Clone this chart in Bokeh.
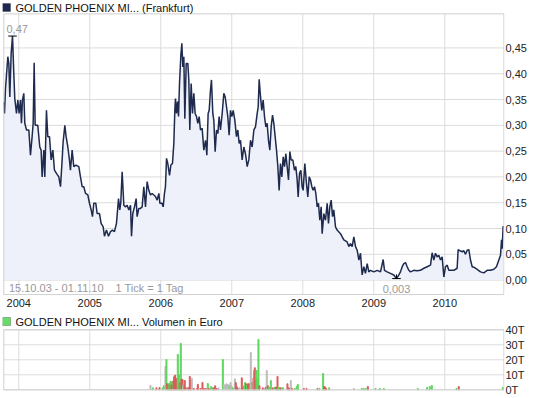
from bokeh.plotting import figure
from bokeh.models import ColumnDataSource, FixedTicker, Label, Range1d, BoxAnnotation
from bokeh.layouts import column
from bokeh.embed import file_html
from bokeh.resources import INLINE

# ---------------- data ----------------
period_start = 2003.789   # 15.10.03
period_end = 2010.833     # 01.11.10

price_years = [
    2003.789, 2003.799, 2003.813, 2003.827, 2003.846, 2003.860, 2003.874, 2003.893, 2003.912, 2003.930,
    2003.944, 2003.968, 2003.987,
    2004.005, 2004.024, 2004.038, 2004.052, 2004.071, 2004.085, 2004.109, 2004.142, 2004.165, 2004.188,
    2004.203, 2004.217, 2004.231, 2004.268, 2004.296, 2004.315, 2004.329, 2004.353, 2004.367, 2004.390,
    2004.409, 2004.433, 2004.456, 2004.480, 2004.503, 2004.531, 2004.564, 2004.588, 2004.611, 2004.625,
    2004.649, 2004.667, 2004.691, 2004.714, 2004.728, 2004.752, 2004.775, 2004.804, 2004.846, 2004.869,
    2004.893, 2004.916, 2004.940, 2004.973, 2004.996,
    2005.020, 2005.038, 2005.057, 2005.085, 2005.104, 2005.137, 2005.160, 2005.189, 2005.207, 2005.235,
    2005.264, 2005.292, 2005.320, 2005.348, 2005.376, 2005.405, 2005.423, 2005.437, 2005.456, 2005.480,
    2005.503, 2005.527, 2005.550, 2005.574, 2005.588, 2005.606, 2005.630, 2005.653, 2005.667, 2005.691,
    2005.714, 2005.738, 2005.761, 2005.785, 2005.808, 2005.832, 2005.855, 2005.879, 2005.902, 2005.926,
    2005.949, 2005.973, 2005.987,
    2006.015, 2006.034, 2006.052, 2006.066, 2006.081, 2006.099, 2006.123, 2006.142, 2006.165, 2006.184,
    2006.198, 2006.207, 2006.221, 2006.236, 2006.250, 2006.264, 2006.283, 2006.297, 2006.311, 2006.325,
    2006.339, 2006.358, 2006.381, 2006.395, 2006.409, 2006.428, 2006.447, 2006.466, 2006.484, 2006.503,
    2006.522, 2006.541, 2006.559, 2006.583, 2006.606, 2006.630, 2006.649, 2006.667, 2006.682, 2006.700,
    2006.714, 2006.733, 2006.747, 2006.766, 2006.785, 2006.804, 2006.822, 2006.841, 2006.865, 2006.888,
    2006.907, 2006.926, 2006.944, 2006.963, 2006.982,
    2007.001, 2007.020, 2007.043, 2007.066, 2007.085, 2007.104, 2007.123, 2007.146, 2007.170, 2007.193,
    2007.217, 2007.240, 2007.264, 2007.287, 2007.311, 2007.334, 2007.358, 2007.372, 2007.386, 2007.405,
    2007.423, 2007.442, 2007.461, 2007.480, 2007.498, 2007.517, 2007.536, 2007.555, 2007.574, 2007.592,
    2007.611, 2007.630, 2007.649, 2007.667, 2007.686, 2007.705, 2007.724, 2007.743, 2007.761, 2007.780,
    2007.799, 2007.818, 2007.836, 2007.860, 2007.883, 2007.902, 2007.921, 2007.935, 2007.954, 2007.973,
    2007.991,
    2008.005, 2008.029, 2008.052, 2008.071, 2008.090, 2008.109, 2008.128, 2008.146, 2008.165, 2008.184,
    2008.203, 2008.221, 2008.240, 2008.259, 2008.273, 2008.297, 2008.320, 2008.344, 2008.362, 2008.381,
    2008.400, 2008.419, 2008.437, 2008.461, 2008.484, 2008.531, 2008.578, 2008.625, 2008.649, 2008.672,
    2008.696, 2008.719, 2008.743, 2008.766, 2008.790, 2008.813, 2008.836, 2008.860, 2008.883, 2008.907,
    2008.930, 2008.954,
    2009.001, 2009.048, 2009.095, 2009.132, 2009.151, 2009.188, 2009.235, 2009.282, 2009.320, 2009.353,
    2009.376, 2009.400, 2009.423, 2009.447, 2009.470, 2009.494, 2009.517, 2009.564, 2009.611, 2009.658,
    2009.705, 2009.752, 2009.799, 2009.822, 2009.846, 2009.869, 2009.893, 2009.916, 2009.940, 2009.963,
    2009.987,
    2010.010, 2010.034, 2010.057, 2010.081, 2010.128, 2010.174, 2010.188, 2010.212, 2010.245, 2010.268,
    2010.292, 2010.315, 2010.339, 2010.362, 2010.386, 2010.409, 2010.456, 2010.503, 2010.550, 2010.597,
    2010.644, 2010.691, 2010.728, 2010.761, 2010.785, 2010.799, 2010.808, 2010.822,
]
price_values = [
    0.345, 0.323, 0.371, 0.397, 0.433, 0.420, 0.355, 0.439, 0.473, 0.401,
    0.352, 0.323, 0.349,
    0.323, 0.349, 0.304, 0.349, 0.362, 0.304, 0.291, 0.291, 0.242, 0.278,
    0.304, 0.421, 0.300, 0.300, 0.258, 0.252, 0.200, 0.252, 0.200, 0.329,
    0.278, 0.278, 0.233, 0.252, 0.213, 0.207, 0.200, 0.181, 0.233, 0.268,
    0.300, 0.278, 0.258, 0.233, 0.213, 0.252, 0.220, 0.223, 0.220, 0.200,
    0.181, 0.181, 0.168, 0.165, 0.149,
    0.136, 0.123, 0.149, 0.149, 0.129, 0.129, 0.110, 0.103, 0.085, 0.097,
    0.085, 0.094, 0.097, 0.094, 0.110, 0.158, 0.136, 0.150, 0.210, 0.145,
    0.142, 0.145, 0.136, 0.145, 0.085, 0.129, 0.142, 0.158, 0.123, 0.139,
    0.139, 0.142, 0.181, 0.142, 0.191, 0.174, 0.165, 0.168, 0.165, 0.162,
    0.155, 0.168, 0.149,
    0.149, 0.142, 0.168, 0.181, 0.236, 0.226, 0.203, 0.223, 0.226, 0.265,
    0.329, 0.352, 0.323, 0.346, 0.317, 0.381, 0.436, 0.459, 0.413, 0.433,
    0.313, 0.420, 0.420, 0.388, 0.291, 0.381, 0.323, 0.362, 0.323, 0.317,
    0.304, 0.317, 0.291, 0.294, 0.252, 0.271, 0.242, 0.323, 0.329, 0.368,
    0.388, 0.323, 0.310, 0.249, 0.291, 0.284, 0.317, 0.291, 0.323, 0.362,
    0.355, 0.336, 0.317, 0.281, 0.329,
    0.317, 0.329, 0.310, 0.278, 0.291, 0.265, 0.271, 0.233, 0.258, 0.245,
    0.220, 0.233, 0.271, 0.258, 0.291, 0.297, 0.323, 0.336, 0.389, 0.355,
    0.329, 0.349, 0.317, 0.297, 0.304, 0.271, 0.252, 0.297, 0.320, 0.304,
    0.278, 0.252, 0.220, 0.174, 0.226, 0.200, 0.239, 0.220, 0.245, 0.220,
    0.194, 0.249, 0.233, 0.233, 0.213, 0.220, 0.194, 0.161, 0.207, 0.213,
    0.181,
    0.174, 0.226, 0.187, 0.161, 0.200, 0.194, 0.181, 0.174, 0.181, 0.168,
    0.142, 0.149, 0.116, 0.142, 0.090, 0.129, 0.116, 0.149, 0.110, 0.142,
    0.155, 0.123, 0.136, 0.103, 0.097, 0.090, 0.078, 0.074, 0.065, 0.071,
    0.065, 0.084, 0.065, 0.058, 0.039, 0.052, 0.010, 0.026, 0.013, 0.032,
    0.016, 0.019,
    0.016, 0.019, 0.016, 0.040, 0.019, 0.016, 0.013, 0.010, 0.003, 0.010,
    0.016, 0.026, 0.032, 0.034, 0.026, 0.019, 0.016, 0.019, 0.018, 0.019,
    0.023, 0.026, 0.029, 0.053, 0.039, 0.052, 0.045, 0.048, 0.039, 0.045,
    0.006,
    0.026, 0.029, 0.019, 0.019, 0.019, 0.023, 0.059, 0.057, 0.055, 0.057,
    0.050, 0.058, 0.059, 0.039, 0.026, 0.025, 0.021, 0.016, 0.014, 0.019,
    0.019, 0.021, 0.026, 0.039, 0.048, 0.078, 0.061, 0.105,
]

# volume in thousands of euro; direction: g = up, r = down, n = unchanged
volume_years = [
    2005.855, 2005.888, 2005.939, 2005.982, 2006.029, 2006.043, 2006.066, 2006.080, 2006.090, 2006.104,
    2006.113, 2006.127, 2006.137, 2006.151, 2006.165, 2006.179, 2006.188, 2006.202, 2006.216, 2006.230,
    2006.240, 2006.254, 2006.268, 2006.282, 2006.291, 2006.306, 2006.315, 2006.324, 2006.338, 2006.352,
    2006.381, 2006.395, 2006.409, 2006.423, 2006.437, 2006.465, 2006.512, 2006.522, 2006.559, 2006.587,
    2006.606, 2006.634, 2006.662, 2006.676, 2006.709, 2006.723, 2006.747, 2006.766, 2006.789, 2006.813,
    2006.874, 2006.888, 2006.911, 2006.925, 2006.944, 2006.968, 2006.982, 2006.996, 2007.014, 2007.043,
    2007.057, 2007.071, 2007.085, 2007.108, 2007.141, 2007.160, 2007.174, 2007.188, 2007.202, 2007.216,
    2007.230, 2007.245, 2007.259, 2007.268, 2007.282, 2007.296, 2007.306, 2007.315, 2007.324, 2007.334,
    2007.348, 2007.362, 2007.376, 2007.390, 2007.437, 2007.465, 2007.479, 2007.493, 2007.507, 2007.521,
    2007.536, 2007.550, 2007.578, 2007.606, 2007.625, 2007.644, 2007.658, 2007.672, 2007.686, 2007.709,
    2007.723, 2007.784, 2007.803, 2007.817, 2007.831, 2007.850, 2007.888, 2007.916, 2007.930, 2008.014,
    2008.052, 2008.207, 2008.235, 2008.287, 2008.301, 2008.315, 2008.329, 2008.371, 2008.719, 2008.831,
    2008.859, 2008.888, 2008.916, 2009.024, 2009.085, 2009.141, 2009.620, 2009.751, 2009.789, 2009.817,
    2010.165, 2010.197, 2010.817,
]
volume_values = [
    2.9, 1.3, 1.3, 1.5, 1.3, 2.7, 15.6, 20.2, 4.0, 2.7,
    4.0, 4.0, 5.6, 3.1, 5.6, 5.3, 8.7, 9.8, 7.6, 1.3,
    23.6, 10.2, 4.7, 30.9, 6.9, 6.9, 3.1, 3.1, 6.2, 1.3,
    1.6, 1.3, 8.9, 6.2, 7.6, 0.9, 0.9, 3.6, 0.9, 4.9,
    0.9, 0.9, 4.2, 0.9, 2.2, 1.3, 1.3, 2.7, 0.9, 1.3,
    20.2, 3.6, 3.1, 4.0, 3.6, 2.7, 4.9, 2.7, 1.3, 7.3,
    4.9, 2.0, 0.9, 1.3, 8.0, 1.3, 2.7, 4.9, 4.0, 3.1,
    4.0, 4.0, 3.1, 24.9, 4.9, 4.9, 8.0, 12.9, 14.7, 6.4,
    12.9, 7.1, 33.6, 2.7, 1.3, 0.9, 1.8, 12.9, 2.7, 1.3,
    1.8, 6.2, 1.3, 1.8, 1.8, 8.9, 1.6, 1.3, 1.3, 1.3,
    1.3, 4.0, 1.3, 0.9, 6.2, 0.9, 0.9, 2.2, 3.6, 0.9,
    0.9, 0.9, 0.9, 10.9, 2.2, 1.8, 0.9, 1.3, 0.9, 0.9,
    0.9, 0.9, 2.2, 0.9, 0.9, 0.9, 0.9, 1.6, 2.2, 2.9,
    0.9, 2.2, 1.6,
]
volume_direction = [
    "n", "g", "r", "r", "g", "g", "n", "g", "r", "r",
    "g", "r", "g", "r", "r", "g", "r", "r", "r", "r",
    "g", "g", "r", "g", "r", "r", "n", "g", "r", "r",
    "g", "r", "r", "r", "n", "r", "r", "r", "r", "r",
    "r", "r", "g", "r", "g", "g", "r", "r", "r", "n",
    "g", "n", "n", "n", "n", "g", "n", "n", "g", "n",
    "r", "r", "r", "n", "r", "r", "g", "g", "r", "g",
    "r", "r", "g", "n", "g", "n", "r", "g", "r", "r",
    "g", "g", "g", "r", "r", "n", "r", "n", "r", "g",
    "g", "g", "r", "g", "r", "r", "g", "g", "r", "g",
    "g", "r", "r", "r", "n", "r", "g", "g", "g", "r",
    "r", "r", "g", "g", "r", "r", "r", "g", "n", "g",
    "g", "g", "r", "g", "g", "g", "g", "g", "g", "g",
    "g", "r", "g",
]

year_ticks = [2004, 2005, 2006, 2007, 2008, 2009, 2010]
year_labels = ["2004", "2005", "2006", "2007", "2008", "2009", "2010"]
price_ticks = [0.0, 0.05, 0.10, 0.15, 0.20, 0.25, 0.30, 0.35, 0.40, 0.45]
price_tick_labels = ["0,00", "0,05", "0,10", "0,15", "0,20", "0,25", "0,30", "0,35", "0,40", "0,45"]
price_box = (-0.028, 0.516)          # value extent of the price panel box
volume_ticks = [0, 10, 20, 30, 40]
volume_tick_labels = ["0T", "10T", "20T", "30T", "40T"]
volume_box = (0, 40)

price_title = "GOLDEN PHOENIX MI... (Frankfurt)"
volume_title = "GOLDEN PHOENIX MI... Volumen in Euro"
period_text = "15.10.03 - 01.11.10"
tick_text = "1 Tick = 1 Tag"

# ---------------- styling ----------------
FONT = "Liberation Sans"
GRID = "#dcdcdc"
BOX = "#cfcfcf"
LINE = "#1e2a4e"
FILL = "#eef1fa"
DIR_COLORS = {"g": "#5cd65c", "r": "#dd5a5a", "n": "#bcbcbc"}

x_range = Range1d(2003.771, 2010.841)


def style_panel(p, ticks, labels, box, standoff):
    p.xgrid.visible = False
    p.ygrid.visible = False
    p.outline_line_color = None
    p.background_fill_color = "white"
    p.border_fill_color = "white"
    p.yaxis.ticker = FixedTicker(ticks=ticks)
    p.yaxis.major_label_overrides = {t: l for t, l in zip(ticks, labels)}
    p.yaxis.axis_line_color = None
    p.yaxis.major_tick_line_color = None
    p.yaxis.minor_tick_line_color = None
    p.yaxis.major_tick_out = 0
    p.yaxis.major_tick_in = 0
    p.yaxis.minor_tick_out = 0
    p.yaxis.major_label_text_font = FONT
    p.yaxis.major_label_text_font_size = "11px"
    p.yaxis.major_label_text_color = "#222222"
    p.yaxis.major_label_standoff = standoff
    # grid lines limited to the panel box
    p.segment(x0=[period_start] * len(ticks), x1=[period_end] * len(ticks), y0=ticks, y1=ticks,
              line_color=GRID, line_width=1)
    p.segment(x0=year_ticks, x1=year_ticks, y0=[box[0]] * len(year_ticks),
              y1=[box[1]] * len(year_ticks), line_color=GRID, line_width=1)


def add_box(p, box):
    p.quad(left=[period_start], right=[period_end], bottom=[box[0]], top=[box[1]],
           fill_color=None, line_color=BOX, line_width=1)


def add_title(p, text, square_color, y_screen):
    # screen units are relative to the frame's bottom-left corner
    p.add_layout(BoxAnnotation(left=0, right=8, bottom=y_screen - 4, top=y_screen + 4,
                               left_units="screen", right_units="screen",
                               bottom_units="screen", top_units="screen",
                               fill_color=square_color, fill_alpha=1,
                               line_color="#222222", line_width=1, level="overlay"))
    p.add_layout(Label(x=13, y=y_screen, x_units="screen", y_units="screen", text=text,
                       text_font=FONT, text_font_size="11px", text_color="#111111",
                       text_baseline="middle"))


# ---------------- price panel ----------------
p = figure(width=545, height=311, x_range=x_range, y_range=Range1d(-0.0298, 0.5419),
           output_backend="svg", toolbar_location=None, y_axis_location="right",
           min_border_left=2, min_border_right=41, min_border_top=0, min_border_bottom=16)
style_panel(p, price_ticks, price_tick_labels, price_box, 1)
p.xaxis.ticker = FixedTicker(ticks=year_ticks)
p.xaxis.major_label_overrides = {t: l for t, l in zip(year_ticks, year_labels)}
p.xaxis.axis_line_color = None
p.xaxis.major_tick_line_color = None
p.xaxis.minor_tick_line_color = None
p.xaxis.major_tick_out = 0
p.xaxis.major_tick_in = 0
p.xaxis.minor_tick_out = 0
p.xaxis.major_label_text_font = FONT
p.xaxis.major_label_text_font_size = "11px"
p.xaxis.major_label_text_color = "#222222"
p.xaxis.major_label_standoff = 3

src = ColumnDataSource(dict(x=price_years, y=price_values))
p.varea(x="x", y1=0, y2="y", source=src, fill_color=FILL)
p.line(x="x", y="y", source=src, line_color=LINE, line_width=1.5)
add_box(p, price_box)

# max / min markers
i_max = max(range(len(price_values)), key=lambda i: price_values[i])
i_min = min(range(len(price_values)), key=lambda i: price_values[i])
hw = 0.06
p.segment(x0=[price_years[i_max] - hw, price_years[i_min] - hw],
          x1=[price_years[i_max] + hw, price_years[i_min] + hw],
          y0=[price_values[i_max], price_values[i_min]],
          y1=[price_values[i_max], price_values[i_min]], line_color="black", line_width=1)
p.segment(x0=[price_years[i_min]], x1=[price_years[i_min]], y0=[price_values[i_min]],
          y1=[price_values[i_min] + 0.008], line_color="black", line_width=1)
p.add_layout(Label(x=price_years[i_max] - 0.085, y=price_values[i_max] + 0.014,
                   text=f"{price_values[i_max]:.2f}".replace(".", ","), text_font=FONT,
                   text_font_size="11px", text_color="#999999", text_baseline="middle"))
p.add_layout(Label(x=price_years[i_min], y=-0.018,
                   text=f"{price_values[i_min]:.3f}".replace(".", ","), text_font=FONT,
                   text_font_size="11px", text_color="#999999", text_baseline="middle",
                   text_align="center"))
p.add_layout(Label(x=2003.862, y=-0.0145, text=period_text, text_font=FONT,
                   text_font_size="11px", text_color="#999999", text_baseline="middle"))
p.add_layout(Label(x=2005.362, y=-0.0145, text=tick_text, text_font=FONT,
                   text_font_size="11px", text_color="#999999", text_baseline="middle"))

add_title(p, price_title, "#1c2850", 288)

# ---------------- volume panel ----------------
v = figure(width=545, height=87, x_range=x_range, y_range=Range1d(-1.13, 52.2),
           output_backend="svg", toolbar_location=None, y_axis_location="right",
           x_axis_location=None,
           min_border_left=2, min_border_right=41, min_border_top=0, min_border_bottom=7)
style_panel(v, volume_ticks, volume_tick_labels, volume_box, 1)
v.vbar(x=volume_years, top=volume_values, width=0.014,
       color=[DIR_COLORS[d] for d in volume_direction])
add_box(v, volume_box)
add_title(v, volume_title, "#66dd66", 70)

layout = column(p, v, spacing=0)
open("out.html", "w").write(file_html(layout, INLINE))
